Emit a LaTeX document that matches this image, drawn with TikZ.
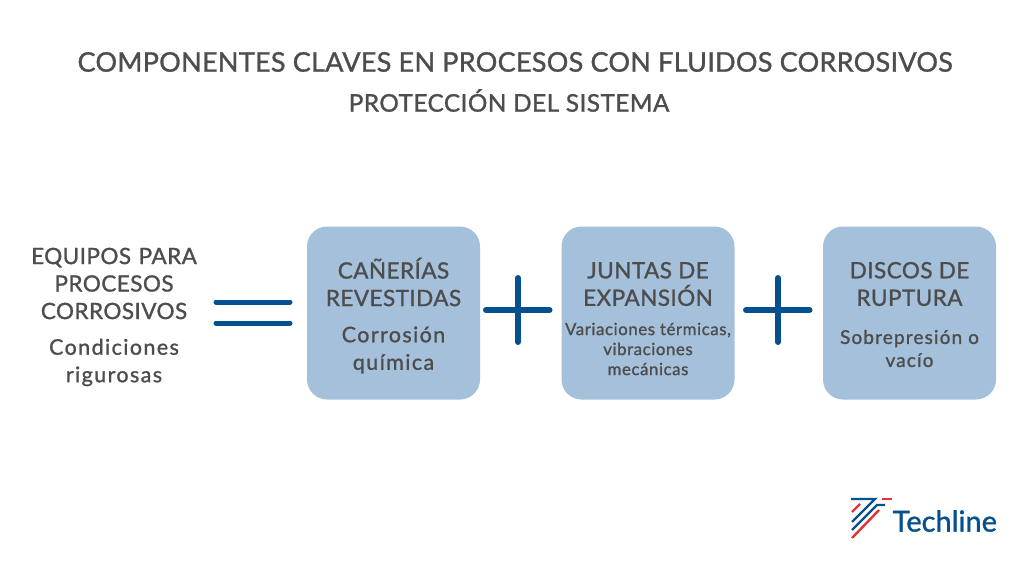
\documentclass[tikz,border=0pt]{standalone}
\usepackage{fontspec}
\setmainfont[LetterSpace=3,FakeBold=1.2]{Lato}
\newfontfamily\logofont[FakeBold=1.2]{Lato}
\definecolor{boxblue}{HTML}{A5C0DA}
\definecolor{signblue}{HTML}{05508F}
\definecolor{textgray}{HTML}{4D4D4D}
\definecolor{logored}{HTML}{E0343A}
\tikzset{
  bluebox/.style={
    rectangle,
    rounded corners=20pt,
    minimum size=173pt,
    inner sep=0pt,
    outer sep=0pt,
    fill=boxblue
  },
  label/.style={
    align=center,
    text=textgray,
    inner sep=0pt
  },
  headtext/.style={label,font=\fontsize{22.5}{27.5}\selectfont\addfontfeature{LetterSpace=2}},
  subtext/.style={label,font=\fontsize{21.5}{27.5}\selectfont\addfontfeature{LetterSpace=6.5}},
  smalltext/.style={label,font=\fontsize{16.8}{20}\selectfont\addfontfeature{LetterSpace=3.5}},
  sign/.style={line width=5pt,line cap=round,draw=signblue},
  logoblue/.style={line width=2.4pt,draw=signblue},
  logored/.style={line width=2.4pt,draw=logored}
}
\begin{document}
\begin{tikzpicture}[x=1pt,y=-1pt]
    \useasboundingbox (0,0) rectangle (1024,576);
    \node[label,font=\fontsize{27}{30}\selectfont\addfontfeature{LetterSpace=1}] (title) at (515,62) {COMPONENTES CLAVES EN PROCESOS CON FLUIDOS CORROSIVOS};
    \node[label,font=\fontsize{24.3}{26}\selectfont\addfontfeature{LetterSpace=2}] (subtitle) at (509,100.5) {PROTECCIÓN DEL SISTEMA};
    % left column
    \node[headtext,text width=200pt] (equipos) at (114,283.5) {EQUIPOS PARA\\PROCESOS\\CORROSIVOS};
    \node[subtext] (condiciones) at (114,362.5) {Condiciones\\rigurosas};
    % boxes
    \node[bluebox] (box1) at (393.5,313) {};
    \node[bluebox] (box2) at (648,313) {};
    \node[bluebox] (box3) at (909.5,313) {};
    \node[headtext] (canerias) at (393.5,282) {CAÑERÍAS\\REVESTIDAS};
    \node[subtext] (corrosion) at (393.5,350) {Corrosión\\química};
    \node[headtext] (juntas) at (648,284) {JUNTAS DE\\EXPANSIÓN};
    \node[smalltext] (variaciones) at (648,349) {Variaciones térmicas,\\vibraciones\\mecánicas};
    \node[headtext] (discos) at (909.5,284) {DISCOS DE\\RUPTURA};
    \node[smalltext,font=\fontsize{19}{23}\selectfont\addfontfeature{LetterSpace=6}] (sobrepresion) at (909.5,348.5) {Sobrepresión o\\vacío};
    % signs
    \coordinate (eqa) at (216,302);
    \coordinate (eqb) at (290,302);
    \coordinate (eqc) at (216,323);
    \coordinate (eqd) at (290,323);
    \draw[sign] (eqa) -- (eqb);
    \draw[sign] (eqc) -- (eqd);
    \foreach \px/\nm in {518/plusa,778/plusb} {
        \coordinate (\nm l) at (\px-32,310);
        \coordinate (\nm r) at (\px+31.5,310);
        \coordinate (\nm t) at (\px,278);
        \coordinate (\nm b) at (\px,342);
        \draw[sign,line width=6pt] (\nm l) -- (\nm r);
        \draw[sign,line width=6pt] (\nm t) -- (\nm b);
    }
    % logo
    \draw[logoblue] (851,499) -- (875,499) -- (852,522);
    \draw[logoblue] (885,505) -- (877,505) -- (852,530);
    \draw[logored] (882,499) -- (892,499);
    \draw[logored] (860,504) -- (852,512);
    \draw[logored] (879,510) -- (852,538);
    \node[anchor=west,inner sep=0pt,text=signblue,font=\fontsize{29}{30}\selectfont\logofont] (logo) at (892.5,521) {Techline};
\end{tikzpicture}
\end{document}
